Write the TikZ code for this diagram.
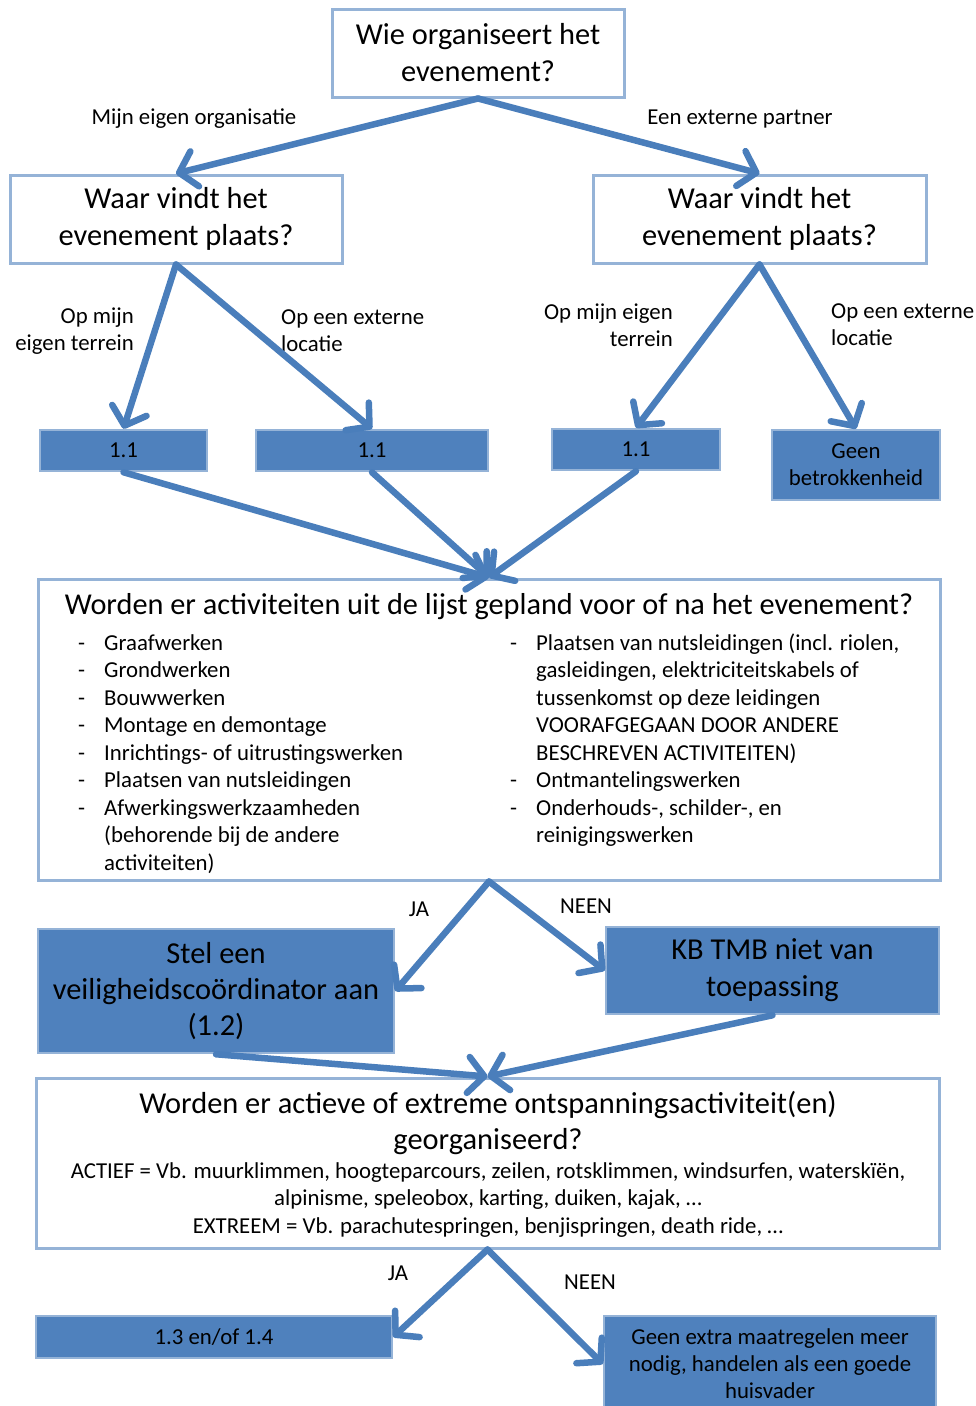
\documentclass[tikz,border=0pt]{standalone}
\usepackage{fontspec}
\setmainfont{Carlito}
\usetikzlibrary{arrows.meta}

\definecolor{boxblue}{RGB}{79,129,189}
\definecolor{linblue}{RGB}{149,179,215}
\definecolor{arrblue}{RGB}{74,126,187}

\tikzset{
   wbox/.style={draw=linblue,line width=3pt,fill=white,align=center,inner sep=0pt,
      font=\fontsize{30.4}{37}\selectfont},
   bbox/.style={draw=linblue,line width=2.5pt,fill=boxblue,align=center,inner sep=0pt,
      font=\fontsize{22.8}{27}\selectfont},
   lbl/.style={inner sep=0pt,font=\fontsize{22.8}{27}\selectfont},
   lst/.style={inner sep=0pt,anchor=base west,font=\fontsize{22.8}{27.5}\selectfont},
   arr/.style={draw=arrblue,line width=6.5pt,line cap=round,
      -{Straight Barb[round,length=16pt,width=36pt]}}
}

\begin{document}
\begin{tikzpicture}[x=1pt,y=-1pt]

   \useasboundingbox (0,0) rectangle (975,1406);

   \node[wbox,minimum width=292pt,minimum height=88pt] (wie) at (478,53) {Wie organiseert het\\evenement?};
   \node[wbox,minimum width=332pt,minimum height=88pt] (waarL) at (176,219) {Waar vindt het\\evenement plaats?};
   \node[wbox,minimum width=333pt,minimum height=88pt] (waarR) at (759.5,219) {Waar vindt het\\evenement plaats?};

   \node[lbl] (lorg) at (194,119) {Mijn eigen organisatie};
   \node[lbl] (lext) at (740,119) {Een externe partner};

   \node[bbox,minimum width=167pt,minimum height=41pt] (a11) at (123.5,450.5) {1.1};
   \node[bbox,minimum width=232pt,minimum height=41pt] (b11) at (372,450.5) {1.1};
   \node[bbox,minimum width=168pt,minimum height=41pt] (c11) at (636,449.5) {1.1};
   \node[bbox,minimum width=168pt,minimum height=70pt] (geb) at (856,465) {Geen\\betrokkenheid};

   \node[lbl,anchor=east,align=right] (lmijnL) at (134,331) {Op mijn\\eigen terrein};
   \node[lbl,anchor=west,align=left] (lextL) at (281,331) {Op een externe\\locatie};
   \node[lbl,anchor=east,align=right] (lmijnR) at (673,325) {Op mijn eigen\\terrein};
   \node[lbl,anchor=west,align=left] (lextR) at (831,325) {Op een externe\\locatie};

   \draw[arr] (wie.south) -- (waarL.north);
   \draw[arr] (wie.south) -- (waarR.north);
   \draw[arr] (waarL.south) -- (a11.north);
   \draw[arr] (waarL.south) -- (b11.north);
   \draw[arr] (waarR.south) -- (c11.north);
   \draw[arr] (waarR.south) -- (geb.north);

   \node[wbox,minimum width=902pt,minimum height=301pt] (act) at (489,729.5) {};
   \node[lbl,font=\fontsize{30.3}{36}\selectfont] (acttit) at (489,607) {Worden er activiteiten uit de lijst gepland voor of na het evenement?};
   \node[lst] (lstL) at (78,650) {\begin{tabular}[t]{@{}p{26pt}@{}l@{}}
      -&Graafwerken\\
      -&Grondwerken\\
      -&Bouwwerken\\
      -&Montage en demontage\\
      -&Inrichtings- of uitrustingswerken\\
      -&Plaatsen van nutsleidingen\\
      -&Afwerkingswerkzaamheden\\
      &(behorende bij de andere\\
      &activiteiten)
   \end{tabular}};
   \node[lst] (lstR) at (510,650) {\begin{tabular}[t]{@{}p{26pt}@{}l@{}}
      -&Plaatsen van nutsleidingen (incl. riolen,\\
      &gasleidingen, elektriciteitskabels of\\
      &tussenkomst op deze leidingen\\
      &VOORAFGEGAAN DOOR ANDERE\\
      &BESCHREVEN ACTIVITEITEN)\\
      -&Ontmantelingswerken\\
      -&Onderhouds-, schilder-, en\\
      &reinigingswerken
   \end{tabular}};

   \draw[arr] (a11.south) -- (act.north);
   \draw[arr] (b11.south) -- (act.north);
   \draw[arr] (c11.south) -- (act.north);

   \node[bbox,minimum width=356pt,minimum height=124pt,font=\fontsize{30.4}{36}\selectfont] (stel) at (216,991) {Stel een\\veiligheidsco\"ordinator aan\\(1.2)};
   \node[bbox,minimum width=333pt,minimum height=87pt,font=\fontsize{30.4}{37}\selectfont] (kb) at (772.5,970.5) {KB TMB niet van\\toepassing};

   \node[lbl] (ja1) at (419,909) {JA};
   \node[lbl] (neen1) at (586,906) {NEEN};

   \draw[arr] (act.south) -- (stel.east);
   \draw[arr] (act.south) -- (kb.west);

   \node[wbox,minimum width=903pt,minimum height=170pt] (ontsp) at (487.5,1163) {};
   \node[lbl,font=\fontsize{30.4}{36}\selectfont,align=center] (onttit) at (488,1123) {Worden er actieve of extreme ontspanningsactiviteit(en)\\georganiseerd?};
   \node[lbl,align=center,font=\fontsize{22.8}{27.5}\selectfont] (ontlst) at (488,1200) {ACTIEF = Vb. muurklimmen, hoogteparcours, zeilen, rotsklimmen, windsurfen, watersk\"i\"en,\\alpinisme, speleobox, karting, duiken, kajak, \dots\\EXTREEM = Vb. parachutespringen, benjispringen, death ride, \dots};

   \draw[arr] (stel.south) -- (ontsp.north);
   \draw[arr] (kb.south) -- (ontsp.north);

   \node[bbox,minimum width=356pt,minimum height=42pt] (een) at (214,1337) {1.3 en/of 1.4};
   \node[bbox,minimum width=332pt,minimum height=96pt] (geen) at (770,1364) {Geen extra maatregelen meer\\nodig, handelen als een goede\\huisvader};

   \node[lbl] (ja2) at (398,1273) {JA};
   \node[lbl] (neen2) at (590,1282) {NEEN};

   \draw[arr] (ontsp.south) -- (een.east);
   \draw[arr] (ontsp.south) -- (geen.west);

\end{tikzpicture}
\end{document}
